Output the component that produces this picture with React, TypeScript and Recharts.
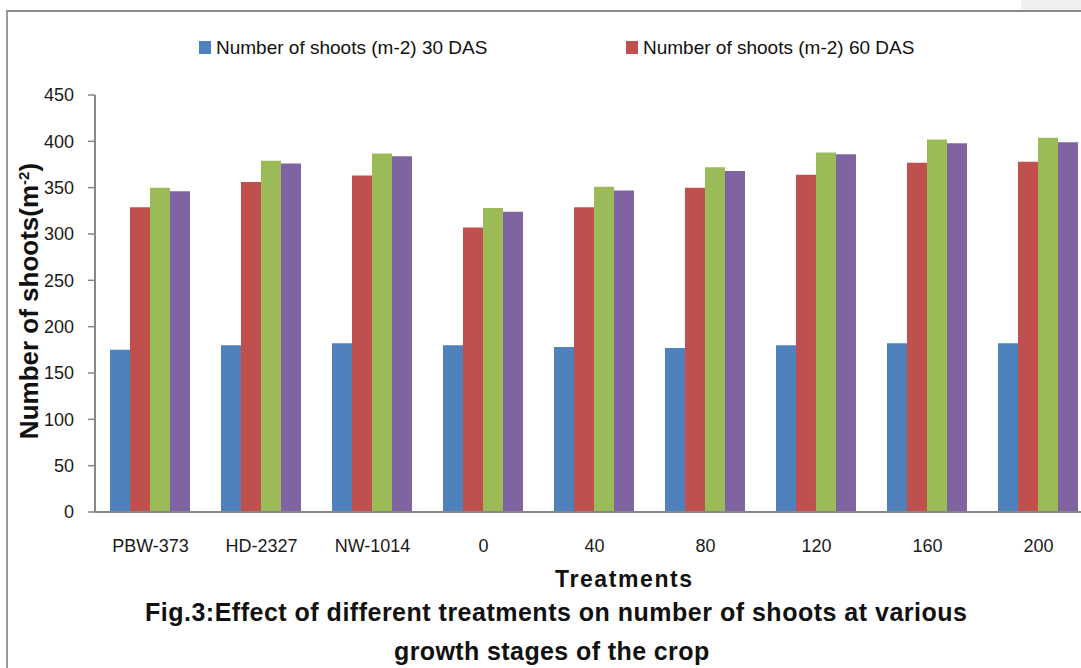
import React from "react";
import { BarChart, Bar, XAxis, YAxis } from "recharts";

const treatments = ["PBW-373", "HD-2327", "NW-1014", "0", "40", "80", "120", "160", "200"];
const shoots30 = [175, 180, 182, 180, 178, 177, 180, 182, 182];
const shoots60 = [329, 356, 363, 307, 329, 350, 364, 377, 378];
const shoots90 = [350, 379, 387, 328, 351, 372, 388, 402, 404];
const shootsHarvest = [346, 376, 384, 324, 347, 368, 386, 398, 399];
const yTicks = [0, 50, 100, 150, 200, 250, 300, 350, 400, 450];

const SERIES = [
  { key: "s30", name: "Number of shoots (m-2) 30 DAS", color: "#4F81BD" },
  { key: "s60", name: "Number of shoots (m-2) 60 DAS", color: "#C0504D" },
  { key: "s90", name: "Number of shoots (m-2) 90 DAS", color: "#9BBB59" },
  { key: "sH", name: "Number of shoots (m-2) at harvest", color: "#8064A2" },
];

const data = treatments.map((t, i) => ({
  name: t,
  s30: shoots30[i],
  s60: shoots60[i],
  s90: shoots90[i],
  sH: shootsHarvest[i],
}));

const FONT = '"Liberation Sans", Arial, sans-serif';
const AXIS = "#878787";

// only the first two legend entries fit in the visible frame
const legendLeft = [199, 626];

export default function App() {
  return (
    <div
      style={{
        position: "absolute",
        left: 0,
        top: 0,
        width: 1081,
        height: 668,
        overflow: "hidden",
        background: "#fff",
        fontFamily: FONT,
      }}
    >
      <div style={{ position: "absolute", left: 1021, top: 0, width: 60, height: 10, background: "#f0f0f0" }} />
      <div
        style={{
          position: "absolute",
          left: 6,
          top: 10,
          width: 2000,
          height: 1000,
          borderLeft: "2px solid #9a9a9a",
          borderTop: "2px solid #8a8a8a",
        }}
      />

      <div style={{ position: "absolute", left: 0, top: 0 }}>
        <BarChart
          width={1110}
          height={560}
          data={data}
          margin={{ top: 95, right: 16, left: 45, bottom: 18 }}
          barCategoryGap="13.5%"
          barGap={0}
        >
          <XAxis
            dataKey="name"
            height={30}
            axisLine={{ stroke: AXIS, strokeWidth: 2 }}
            tickLine={false}
            tickSize={0}
            tickMargin={27}
            interval={0}
            tick={{ fill: "#1a1a1a", fontSize: 18, fontFamily: FONT }}
          />
          <YAxis
            width={50}
            domain={[0, 450]}
            ticks={yTicks}
            interval={0}
            axisLine={{ stroke: AXIS, strokeWidth: 2 }}
            tickLine={{ stroke: AXIS, strokeWidth: 1.5 }}
            tickSize={7}
            tickMargin={14}
            tick={{ fill: "#1a1a1a", fontSize: 18, fontFamily: FONT }}
          />
          {SERIES.map((s) => (
            <Bar key={s.key} dataKey={s.key} name={s.name} fill={s.color} isAnimationActive={false} />
          ))}
        </BarChart>
      </div>

      {SERIES.slice(0, 2).map((s, i) => (
        <div key={s.key} style={{ position: "absolute", left: legendLeft[i], top: 38, whiteSpace: "nowrap" }}>
          <span
            style={{ position: "absolute", left: 0, top: 3, width: 12, height: 13, background: s.color }}
          />
          <span style={{ position: "absolute", left: 17, top: 0, fontSize: 19, lineHeight: "19px", color: "#111" }}>
            {s.name}
          </span>
        </div>
      ))}

      <div
        style={{
          position: "absolute",
          left: 29,
          top: 301,
          transform: "translate(-50%, -50%) rotate(-90deg)",
          whiteSpace: "nowrap",
          fontSize: 26,
          lineHeight: "26px",
          fontWeight: "bold",
          color: "#111",
        }}
      >
        Number of shoots(m<sup style={{ fontSize: 15, verticalAlign: "top", lineHeight: "15px" }}>-2</sup>)
      </div>

      <div
        style={{
          position: "absolute",
          left: 555,
          top: 568,
          fontSize: 23,
          lineHeight: "23px",
          fontWeight: "bold",
          letterSpacing: 1.6,
          whiteSpace: "nowrap",
          color: "#111",
        }}
      >
        Treatments
      </div>
      <div
        style={{
          position: "absolute",
          left: 145,
          top: 600,
          fontSize: 25,
          lineHeight: "25px",
          fontWeight: "bold",
          letterSpacing: 0.5,
          whiteSpace: "nowrap",
          color: "#111",
        }}
      >
        Fig.3:Effect of different treatments on number of shoots at various
      </div>
      <div
        style={{
          position: "absolute",
          left: 394,
          top: 639,
          fontSize: 25,
          lineHeight: "25px",
          fontWeight: "bold",
          letterSpacing: 0.4,
          whiteSpace: "nowrap",
          color: "#111",
        }}
      >
        growth stages of the crop
      </div>
    </div>
  );
}
